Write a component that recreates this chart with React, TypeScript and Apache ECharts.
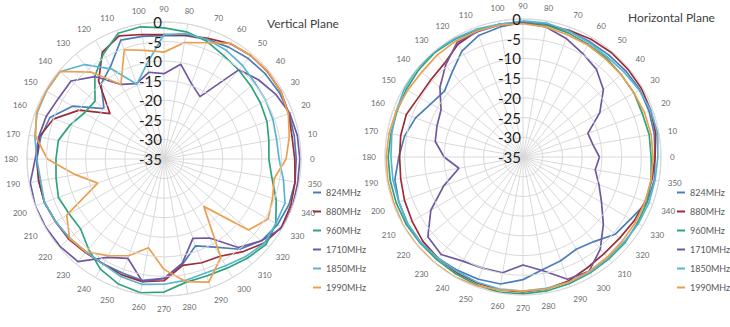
import React, { useEffect, useRef } from "react";
import * as echarts from "echarts";

// Angles (degrees, 0 = right, counter-clockwise)
const ANGLES = [0, 10, 20, 30, 40, 50, 60, 70, 80, 90, 100, 110, 120, 130, 140, 150, 160, 170, 180, 190, 200, 210, 220, 230, 240, 250, 260, 270, 280, 290, 300, 310, 320, 330, 340, 350];
const RADIAL_TICKS = [-35, -30, -25, -20, -15, -10, -5, 0];

const SERIES_NAMES = ["824MHz", "880MHz", "960MHz", "1710MHz", "1850MHz", "1990MHz"];
const SERIES_COLORS = ["#4a7ebb", "#9b2d3a", "#2ea37e", "#6f58a0", "#5ab4d0", "#eaa050"];

const PANEL_TITLES = ["Vertical Plane", "Horizontal Plane"];

// Vertical plane (dB)
const V_824 = [-1.2, -1.2, -1, -1, -1.2, -1.5, -2, -2.5, -3, -3.5, -3.2, -2.7, -7.7, -10, -15, -8, -4, -3, -2.5, -2.5, -2.5, -3, -3.5, -4, -4, -4, -3.5, -4.5, -7.7, -11.4, -9, -4.9, -2.5, -1.5, -1, -1];
const V_880 = [-1.6, -1.8, -1.1, -0.5, -0.4, -0.5, -1, -2.2, -2.9, -3.2, -2.7, -1.5, -3.5, -9, -17, -10, -5, -2.6, -2.5, -2.5, -2.5, -3, -3.2, -3.8, -4, -3.5, -3.2, -3.9, -7.4, -6.8, -6.3, -4, -1.6, -0.3, -0.5, -1];
const V_960 = [-8.2, -7.8, -7, -6.5, -6, -5.3, -4.5, -3, -2, -1.5, -0.7, -0.8, -4, -7.5, -12, -11.5, -9.5, -7.6, -7.4, -7, -6.3, -7, -7.2, -5, -2.5, -1, -0.3, -1, -3, -3.2, -2.8, -1.9, -1, -2, -4.5, -7];
const V_1710 = [-0.3, -0.4, -0.8, -2, -3.5, -5.2, -16.6, -14.5, -10.4, -13.2, -12.5, -14.5, -13, -7.5, -4, -3.9, -3, -2.5, -2.1, -0.3, 0, -0.1, -0.3, -0.8, -6, -8, -3.2, -4.5, -8, -13.4, -11.7, -5.5, -2.5, 0, 0, -0.3];
const V_1850 = [-5.6, -5.8, -5.4, -5, -4.7, -3.8, -3, -2.5, -2.5, -3.2, -10.2, -14.7, -8.5, -3.5, -0.3, -0.3, -0.5, -1.5, -2.5, -3, -2.5, -3, -3.5, -4, -4, -3, -2.5, -3, -3.5, -4, -3.5, -2.5, -1.5, -2, -2.1, -4];
const V_1990 = [-3.8, -2.5, -1.2, -0.5, -0.3, -0.5, -0.9, -3.4, -4.8, -7.7, -6.8, -5.3, -13, -6, -0.2, -0.2, -0.3, -1.7, -5.2, -12, -17, -6.3, -3.5, -4, -6.5, -8.7, -12, -6.8, -3.2, -1.5, -6, -19.2, -6.8, -4.3, -5.5, -6.4];

// Horizontal plane (dB)
const H_824 = [-1.5, -1.2, -1, -0.8, -1, -1.2, -1.2, -1, -0.8, -0.8, -1.5, -2.2, -4, -7, -9, -8, -6, -4.5, -3.5, -2, -1.5, -1.2, -1.2, -1.5, -1.8, -2, -2.3, -3.9, -6, -7, -8, -7, -4.5, -3.5, -1.5, -1.2];
const H_880 = [-1.5, -0.8, -0.5, -0.3, -0.3, -0.3, -0.5, -0.8, -1, -1, -0.8, -1, -2, -4, -4.5, -4.5, -3.5, -3.5, -3.7, -3.5, -3, -2.5, -1.8, -1.5, -1.2, -1, -0.8, -0.8, -1, -1.5, -2.5, -3, -3, -2.5, -2, -1.8];
const H_960 = [-2.5, -2.5, -2.8, -2.5, -2.5, -2.2, -2, -1.5, -1, -0.8, -0.8, -0.8, -0.5, -0.3, -0.5, -0.8, -1, -1, -0.8, -0.8, -0.8, -0.8, -1, -1, -0.8, -0.5, -0.2, -0.3, -0.5, -0.8, -1, -1.2, -1.2, -1.5, -1.5, -2];
const H_1710 = [-15.6, -17, -17.5, -12.5, -8.4, -6, -4.7, -3, -1.5, -1, -1, -1.2, -1.5, -4.5, -7.5, -11, -11.8, -12.4, -15, -18.5, -13.6, -8, -3.5, -2.7, -4.5, -5, -5.2, -7.6, -5.7, -2, -1.5, -4.5, -8.4, -12, -14.5, -16.4];
const H_1850 = [-0.8, -0.3, -0.5, -1, -1.5, -1.8, -1.5, -1, -0.5, -0.5, -0.8, -0.5, -0.3, 0, 0, -0.3, -0.8, -1.2, -1.5, -1.5, -1.5, -1.2, -1.2, -1.5, -1.5, -1.2, -1, -1, -1.2, -1.2, -1.2, -1.5, -1.5, -1.2, -1, -1];
const H_1990 = [-2, -2, -2.2, -2.5, -2.5, -2.5, -2.2, -2, -1.5, -1.2, -1, -1, -1, -1.2, -1.5, -1.2, -0.8, -0.5, -0.3, -0.2, -0.2, 0, 0, 0, 0, -0.3, -0.8, -1, -1, -1.2, -1.5, -1.8, -2, -2, -2, -2];

const VERTICAL = [V_824, V_880, V_960, V_1710, V_1850, V_1990];
const HORIZONTAL = [H_824, H_880, H_960, H_1710, H_1850, H_1990];

const FONT = "Lato, 'Open Sans', sans-serif";
const GRID = "#d9d9d9";

// angle axis starts at top (90°) going counter-clockwise, so shift data angle by -90
function toPolar(values: number[]) {
  const pts = ANGLES.map((a, i) => [values[i], (a - 90 + 360) % 360]);
  pts.push(pts[0]);
  return pts;
}

export default function App() {
  const ref = useRef<HTMLDivElement>(null);

  useEffect(() => {
    if (!ref.current) return;
    const chart = echarts.init(ref.current, undefined, { renderer: "svg" });

    const polarLayout = [
      { center: [164, 159], radius: 137 },
      { center: [523, 157], radius: 138 },
    ];

    const angleAxis = polarLayout.map((_, i) => ({
      polarIndex: i,
      type: "value",
      min: 0,
      max: 360,
      interval: 10,
      startAngle: 90,
      clockwise: false,
      axisLine: { show: true, lineStyle: { color: GRID, width: 1 } },
      axisTick: { show: false },
      axisLabel: {
        margin: 9,
        fontSize: 8,
        color: "#6b6b6b",
        fontFamily: FONT,
        formatter: (v: number) => (v >= 360 ? "" : String((v + 90) % 360)),
      },
      splitLine: { show: true, lineStyle: { color: GRID, width: 1 } },
    }));

    const radiusAxis = polarLayout.map((_, i) => ({
      polarIndex: i,
      type: "value",
      min: RADIAL_TICKS[0],
      max: RADIAL_TICKS[RADIAL_TICKS.length - 1],
      interval: 5,
      axisLine: { show: false },
      axisTick: { show: false },
      axisLabel: { margin: 2, fontSize: 15, color: "#1f1f1f", fontFamily: FONT },
      splitLine: { show: true, lineStyle: { color: GRID, width: 1 } },
      z: 5,
    }));

    const series: any[] = [];
    [VERTICAL, HORIZONTAL].forEach((panel, p) => {
      panel.forEach((vals, k) => {
        series.push({
          type: "line",
          name: SERIES_NAMES[k],
          coordinateSystem: "polar",
          polarIndex: p,
          data: toPolar(vals),
          symbol: "none",
          showSymbol: false,
          lineStyle: { color: SERIES_COLORS[k], width: 1.7 },
          itemStyle: { color: SERIES_COLORS[k] },
          z: 3,
        });
      });
    });

    const legendBase = {
      data: SERIES_NAMES,
      orient: "vertical",
      top: 188,
      itemWidth: 8,
      itemHeight: 2,
      itemGap: 10,
      icon: "rect",
      padding: 0,
      selectedMode: false,
      textStyle: { fontSize: 9, color: "#595959", fontFamily: FONT },
    };

    chart.setOption({
      animation: false,
      backgroundColor: "#ffffff",
      title: [
        { text: PANEL_TITLES[0], left: 267, top: 17, padding: 0, textStyle: { fontSize: 12, fontWeight: "normal", color: "#404040", fontFamily: FONT } },
        { text: PANEL_TITLES[1], left: 628, top: 11, padding: 0, textStyle: { fontSize: 12, fontWeight: "normal", color: "#404040", fontFamily: FONT } },
      ],
      legend: [
        { ...legendBase, left: 313 },
        { ...legendBase, left: 677 },
      ],
      polar: polarLayout,
      angleAxis,
      radiusAxis,
      series,
    });

    return () => chart.dispose();
  }, []);

  return (
    <div
      ref={ref}
      style={{ position: "absolute", left: 0, top: 0, width: 730, height: 327, background: "#fff" }}
    />
  );
}
